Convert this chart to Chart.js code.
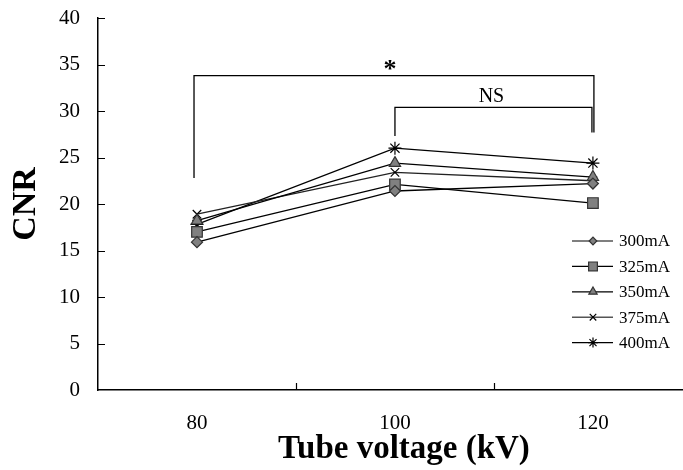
<!DOCTYPE html>
<html>
<head>
<meta charset="utf-8">
<script src="https://cdn.jsdelivr.net/npm/chart.js@4/dist/chart.umd.min.js"></script>
<style>
  html, body { margin: 0; padding: 0; background: #fff; }
  #wrap { position: relative; width: 683px; height: 470px; }
</style>
</head>
<body>
<div id="wrap"><canvas id="c" width="683" height="470"></canvas></div>
<script>
// ---- data ----
const categories = [80, 100, 120];           // tube voltage (kV)
const seriesNames = ['300mA', '325mA', '350mA', '375mA', '400mA'];
const cnr300 = [15.9, 21.4, 22.2];
const cnr325 = [17.0, 22.1, 20.1];
const cnr350 = [18.2, 24.4, 22.9];
const cnr375 = [18.9, 23.4, 22.5];
const cnr400 = [17.8, 26.0, 24.4];
const yTicks = [0, 5, 10, 15, 20, 25, 30, 35, 40];
const xTitle = 'Tube voltage (kV)';
const yTitle = 'CNR';
// significance brackets (data units)
const sigStar = { label: '*', from: 79.7, to: 120.1, level: 33.8, leftDrop: 22.8, rightDrop: 27.7 };
const sigNS = { label: 'NS', from: 100, to: 119.9, level: 30.4, leftDrop: 27.3, rightDrop: 27.7 };

const allSeries = [cnr300, cnr325, cnr350, cnr375, cnr400];
const styles = [
  { pointStyle: 'rectRot', radius: 5.5, legendRadius: 3.8, fill: '#808080', border: '#333', line: '#000' },
  { pointStyle: 'rect', radius: 7.5, legendRadius: 6.2, fill: '#808080', border: '#333', line: '#000' },
  { pointStyle: 'triangle', radius: 6.5, legendRadius: 4.8, fill: '#808080', border: '#333', line: '#000' },
  { pointStyle: 'crossRot', radius: 6, legendRadius: 4.6, fill: '#000', border: '#000', line: '#222' },
  { pointStyle: 'star', radius: 6.5, legendRadius: 5, fill: '#000', border: '#000', line: '#000' }
];

const SERIF = '"Liberation Serif", "DejaVu Serif", serif';

const datasets = allSeries.map((vals, i) => ({
  label: seriesNames[i],
  data: categories.map((c, j) => ({ x: c, y: vals[j] })),
  borderColor: styles[i].line,
  borderWidth: 1.3,
  pointStyle: styles[i].pointStyle,
  pointRadius: styles[i].radius,
  pointBackgroundColor: styles[i].fill,
  pointBorderColor: styles[i].border,
  pointBorderWidth: 1.2,
  fill: false,
  tension: 0
}));

function drawMarker(ctx, style, radius, x, y) {
  ctx.save();
  ctx.fillStyle = style.fill;
  ctx.strokeStyle = style.border;
  ctx.lineWidth = 1.2;
  if (Chart.helpers && Chart.helpers.drawPoint) {
    Chart.helpers.drawPoint(ctx, { pointStyle: style.pointStyle, rotation: 0, radius: radius, borderWidth: 1.2 }, x, y);
  }
  ctx.restore();
}

const extrasPlugin = {
  id: 'extras',
  afterDraw(chart) {
    const ctx = chart.ctx;
    const xs = chart.scales.x, ys = chart.scales.y;
    const area = chart.chartArea;
    ctx.save();
    // inward tick marks
    ctx.strokeStyle = '#000';
    ctx.lineWidth = 1.2;
    ctx.beginPath();
    yTicks.forEach(v => {
      if (v === 0) return;
      const py = Math.round(ys.getPixelForValue(v)) + 0.5;
      ctx.moveTo(area.left, py);
      ctx.lineTo(area.left + 7, py);
    });
    for (let k = 0; k < categories.length - 1; k++) {
      const mid = (categories[k] + categories[k + 1]) / 2;
      const px = Math.round(xs.getPixelForValue(mid)) + 0.5;
      ctx.moveTo(px, area.bottom);
      ctx.lineTo(px, area.bottom - 7);
    }
    ctx.stroke();

    // significance brackets
    ctx.lineWidth = 1.3;
    [sigStar, sigNS].forEach(s => {
      const x1 = xs.getPixelForValue(s.from), x2 = xs.getPixelForValue(s.to);
      const yl = ys.getPixelForValue(s.level);
      ctx.beginPath();
      ctx.moveTo(x1, ys.getPixelForValue(s.leftDrop));
      ctx.lineTo(x1, yl);
      ctx.lineTo(x2, yl);
      ctx.lineTo(x2, ys.getPixelForValue(s.rightDrop));
      ctx.stroke();
    });
    ctx.fillStyle = '#000';
    ctx.textAlign = 'center';
    ctx.textBaseline = 'alphabetic';
    ctx.font = 'bold 26px ' + SERIF;
    ctx.fillText(sigStar.label, xs.getPixelForValue((sigStar.from + sigStar.to) / 2) - 4, ys.getPixelForValue(sigStar.level) + 1);
    ctx.font = '20px ' + SERIF;
    ctx.fillText(sigNS.label, xs.getPixelForValue((sigNS.from + sigNS.to) / 2) - 2, ys.getPixelForValue(sigNS.level) - 5);

    // x axis title, centred as in the reference
    ctx.font = 'bold 33px ' + SERIF;
    ctx.textAlign = 'center';
    ctx.textBaseline = 'alphabetic';
    ctx.fillText(xTitle, xs.getPixelForValue(100) + 9, 458);

    // legend
    ctx.font = '17px ' + SERIF;
    ctx.textAlign = 'left';
    ctx.textBaseline = 'middle';
    chart.data.datasets.forEach((ds, i) => {
      const ly = 241 + i * 25.4;
      ctx.strokeStyle = i === 3 ? '#555' : '#000';
      ctx.lineWidth = i === 3 ? 1.6 : 1.2;
      ctx.beginPath();
      ctx.moveTo(572, ly);
      ctx.lineTo(613, ly);
      ctx.stroke();
      drawMarker(ctx, styles[i], styles[i].legendRadius, 593, ly);
      ctx.fillStyle = '#000';
      ctx.fillText(ds.label, 619, ly + 1);
    });
    ctx.restore();
  }
};

new Chart(document.getElementById('c'), {
  type: 'line',
  data: { datasets },
  options: {
    responsive: false,
    animation: false,
    layout: { autoPadding: false, padding: { top: 18, right: 0, left: 0, bottom: 0 } },
    plugins: { legend: { display: false }, tooltip: { enabled: false } },
    scales: {
      x: {
        type: 'linear',
        min: 70,
        max: 129.1,
        afterBuildTicks: s => { s.ticks = categories.map(v => ({ value: v })); },
        afterFit: s => { s.height = 80; s.paddingLeft = 0; s.paddingRight = 0; },
        grid: { display: false, drawTicks: false },
        border: { display: true, color: '#000', width: 1.5 },
        ticks: { color: '#000', padding: 21, maxRotation: 0, font: { family: SERIF, size: 21 } },
        title: { display: false, text: xTitle }
      },
      y: {
        type: 'linear',
        min: 0,
        max: 40,
        afterBuildTicks: s => { s.ticks = yTicks.map(v => ({ value: v })); },
        afterFit: s => { s.width = 98; s.paddingTop = 0; s.paddingBottom = 0; },
        grid: { display: false, drawTicks: false },
        border: { display: true, color: '#000', width: 1.5 },
        ticks: { color: '#000', padding: 18, font: { family: SERIF, size: 21 } },
        title: {
          display: true, text: yTitle, color: '#000',
          font: { family: SERIF, size: 34, weight: 'bold', lineHeight: 1 },
          padding: { top: 9.5, bottom: 0 }
        }
      }
    }
  },
  plugins: [extrasPlugin]
});
</script>
</body>
</html>
